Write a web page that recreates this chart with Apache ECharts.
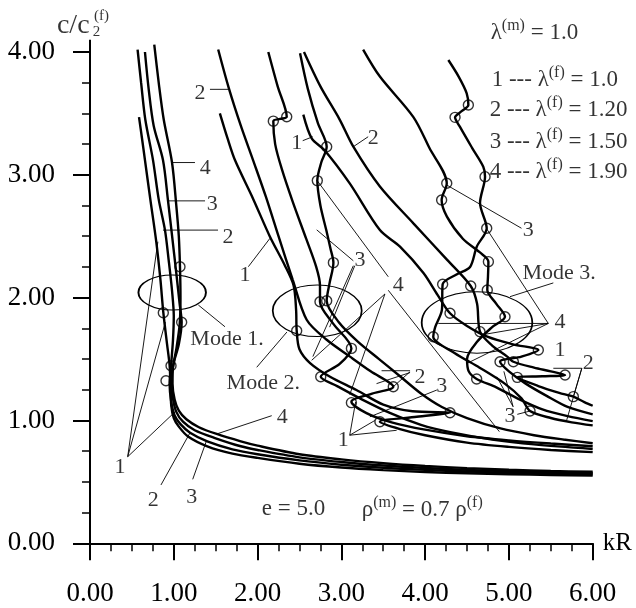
<!DOCTYPE html>
<html><head><meta charset="utf-8">
<script src="https://cdn.jsdelivr.net/npm/echarts@6/dist/echarts.min.js"></script>
<style>html,body{margin:0;padding:0;background:#fff}#c{width:636px;height:608px}</style>
</head><body><div id="c"></div>
<script>
// ---------- data (kR, c/c2) ----------
// Mode 1, lambda(f) = 1.0, 1.20, 1.50, 1.90
const mode1_l1 = [[0.585,3.47],[0.62,3.30],[0.656,3.12],[0.72,2.80],[0.79,2.46],[0.84,2.15],[0.875,1.88],[0.92,1.62],[0.95,1.45],[0.96,1.30],[0.97,1.12],[1.0,1.02],[1.06,0.95],[1.17,0.87],[1.4,0.79],[1.7,0.73],[2.0,0.695],[2.5,0.648],[3.0,0.617],[3.5,0.596],[4.0,0.58],[4.5,0.57],[5.0,0.562],[5.5,0.556],[6.0,0.552]];
const mode1_l2 = [[0.568,4.02],[0.61,3.75],[0.66,3.45],[0.752,3.12],[0.82,2.80],[0.895,2.55],[0.94,2.30],[0.98,2.05],[1.00,1.85],[0.99,1.65],[0.967,1.445],[0.95,1.30],[0.97,1.15],[1.01,1.04],[1.08,0.97],[1.194,0.90],[1.4,0.83],[1.7,0.765],[2.0,0.725],[2.5,0.675],[3.0,0.64],[3.5,0.615],[4.0,0.598],[4.5,0.585],[5.0,0.575],[5.5,0.567],[6.0,0.562]];
const mode1_l3 = [[0.656,4.0],[0.70,3.70],[0.76,3.40],[0.871,3.12],[0.931,2.79],[0.98,2.50],[1.03,2.20],[1.07,1.95],[1.094,1.80],[1.06,1.62],[1.00,1.47],[0.97,1.33],[0.99,1.18],[1.03,1.07],[1.11,0.99],[1.25,0.92],[1.5,0.855],[1.8,0.79],[2.0,0.76],[2.5,0.70],[3.0,0.662],[3.5,0.633],[4.0,0.613],[4.5,0.598],[5.0,0.587],[5.5,0.579],[6.0,0.572]];
const mode1_l4 = [[0.767,4.06],[0.82,3.75],[0.88,3.45],[0.979,3.10],[1.03,2.75],[1.06,2.50],[1.074,2.252],[1.08,2.00],[1.07,1.78],[1.03,1.58],[0.99,1.43],[0.985,1.30],[1.01,1.17],[1.06,1.08],[1.15,1.01],[1.3,0.945],[1.512,0.89],[1.8,0.83],[2.0,0.795],[2.5,0.725],[3.0,0.683],[3.5,0.652],[4.0,0.629],[4.5,0.612],[5.0,0.599],[5.5,0.589],[6.0,0.582]];
// Mode 2
const mode2_a = [[1.55,3.50],[1.64,3.30],[1.73,3.12],[1.95,2.80],[2.148,2.496],[2.32,2.27],[2.43,2.10],[2.46,1.90],[2.467,1.731],[2.50,1.58],[2.63,1.465],[2.865,1.356],[3.18,1.248],[3.50,1.13],[3.85,1.075],[4.297,1.063],[3.90,1.03],[3.46,0.99],[3.70,0.93],[4.0,0.88],[4.5,0.82],[5.0,0.785],[5.5,0.76],[6.0,0.742]];
const mode2_b = [[1.53,4.02],[1.655,3.71],[1.80,3.40],[1.946,3.12],[2.10,2.82],[2.25,2.50],[2.42,2.145],[2.586,1.82],[2.825,1.657],[3.103,1.52],[3.35,1.40],[3.62,1.275],[3.35,1.215],[3.12,1.153],[3.30,1.06],[3.60,0.985],[4.0,0.925],[4.5,0.872],[5.0,0.838],[5.5,0.812],[6.0,0.79]];
const mode2_c = [[2.128,4.0],[2.24,3.72],[2.348,3.473],[2.27,3.455],[2.188,3.437],[2.21,3.25],[2.288,3.05],[2.42,2.78],[2.58,2.48],[2.70,2.25],[2.745,2.10],[2.745,1.967],[2.90,1.79],[3.12,1.587],[2.98,1.46],[2.754,1.356],[2.95,1.28],[3.25,1.17],[3.60,1.055],[3.95,0.965],[4.3,0.905],[4.8,0.845],[5.3,0.805],[6.0,0.768]];
const mode2_d = [[2.507,3.99],[2.60,3.70],[2.72,3.42],[2.825,3.229],[2.76,3.10],[2.713,2.953],[2.75,2.75],[2.82,2.55],[2.87,2.40],[2.905,2.285],[2.86,2.12],[2.825,1.975],[2.97,1.80],[3.20,1.64],[3.45,1.50],[3.70,1.36],[3.95,1.22],[4.2,1.11],[4.5,1.02],[4.9,0.935],[5.3,0.88],[5.65,0.845],[6.0,0.815]];
// Mode 3
const mode3_a = [[2.546,3.49],[2.646,3.297],[2.80,3.20],[3.10,2.93],[3.46,2.55],[3.70,2.415],[3.98,2.20],[4.15,2.02],[4.297,1.873],[4.50,1.77],[4.75,1.68],[5.05,1.62],[5.351,1.574],[5.15,1.52],[4.894,1.478],[5.0,1.40],[5.20,1.30],[5.45,1.20],[5.70,1.11],[6.0,1.05]];
const mode3_b = [[2.554,4.0],[2.75,3.72],[2.98,3.45],[3.143,3.229],[3.46,2.905],[3.86,2.605],[4.26,2.31],[4.544,2.095],[4.62,1.95],[4.655,1.723],[4.80,1.61],[4.98,1.52],[5.053,1.478],[5.30,1.43],[5.50,1.40],[5.67,1.37],[5.40,1.36],[5.10,1.351],[5.35,1.28],[5.60,1.225],[5.769,1.194],[5.90,1.15],[6.0,1.12]];
const mode3_c = [[3.26,4.02],[3.46,3.80],[3.86,3.47],[4.05,3.22],[4.258,2.93],[4.197,2.795],[4.26,2.66],[4.45,2.48],[4.65,2.37],[4.755,2.293],[4.75,2.17],[4.742,2.062],[4.85,1.95],[4.953,1.845],[4.80,1.76],[4.62,1.64],[4.50,1.50],[4.52,1.40],[4.615,1.338],[4.85,1.27],[5.10,1.18],[5.40,1.09],[5.70,1.035],[6.0,0.995]];
const mode3_d = [[4.277,3.935],[4.40,3.80],[4.496,3.664],[4.516,3.568],[4.44,3.52],[4.357,3.468],[4.416,3.39],[4.56,3.22],[4.694,3.066],[4.715,2.985],[4.655,2.77],[4.735,2.565],[4.616,2.415],[4.536,2.25],[4.38,2.19],[4.209,2.109],[4.20,1.90],[4.12,1.76],[4.097,1.682],[4.35,1.55],[4.65,1.43],[4.95,1.30],[5.15,1.18],[5.252,1.077],[5.50,1.02],[5.75,0.985],[6.0,0.96]];

// marked points (circles)
const markedPoints = [[0.875,1.877],[1.094,1.80],[0.967,1.445],[0.907,1.324],[1.074,2.252],
 [2.188,3.437],[2.348,3.473],[2.825,3.229],[2.713,2.953],[2.905,2.285],[2.745,1.967],[2.825,1.975],[2.467,1.731],[3.12,1.587],[2.754,1.356],[3.62,1.275],[3.12,1.145],[4.297,1.063],[3.46,0.99],
 [4.516,3.568],[4.357,3.468],[4.715,2.985],[4.258,2.931],[4.197,2.795],[4.735,2.565],[4.755,2.293],[4.209,2.109],[4.544,2.095],[4.742,2.062],[4.297,1.873],[4.953,1.845],[4.097,1.682],[4.655,1.723],[5.351,1.574],[4.894,1.478],[5.053,1.478],[4.615,1.338],[5.10,1.351],[5.67,1.37],[5.769,1.194],[5.252,1.077]];

// mode ellipses: centre x, centre y, half-width, half-height (data units)
const modeEllipses = [[0.981,2.042,0.403,0.1425],[2.712,1.893,0.531,0.21],[4.619,1.798,0.66,0.25]];

// leader lines x1,y1,x2,y2
const leaders = [
 [0.979,3.10,1.253,3.10],[0.931,2.788,1.373,2.788],[0.871,2.55,1.528,2.55],
 [0.45,0.705,0.81,2.455],[0.45,0.705,0.90,1.80],[0.45,0.705,1.015,1.07],
 [0.847,0.475,1.194,0.90],[1.226,0.521,1.393,0.84],[2.169,1.039,1.512,0.89],
 [1.293,1.94,1.611,1.763],[1.99,1.433,2.35,1.72],[5.53,2.12,5.013,2.008],
 [1.432,3.696,1.65,3.696],[1.89,2.252,2.148,2.483],[2.539,3.278,2.658,3.31],[3.32,3.31,3.143,3.229],
 [3.143,2.30,2.706,2.552],[3.143,2.26,2.66,1.52],[3.16,2.26,2.86,1.76],
 [3.56,2.06,4.886,0.909],[3.52,2.03,3.10,1.21],[3.52,2.03,2.646,1.49],[3.56,2.17,2.706,2.958],
 [3.82,1.397,3.62,1.275],[3.48,1.405,3.82,1.405],[3.82,1.39,3.42,1.30],
 [4.14,1.248,3.34,1.03],
 [3.10,0.88,3.17,1.15],[3.10,0.88,3.40,1.0],[3.10,0.88,3.66,0.92],
 [5.15,2.565,4.258,2.917],
 [5.47,1.79,4.157,1.79],[5.47,1.79,4.70,1.70],[5.47,1.79,4.50,1.465],[5.47,1.79,4.735,2.56],
 [5.87,1.425,5.53,1.425],[5.87,1.425,5.769,1.194],[5.87,1.425,5.69,1.004],
 [5.05,1.112,4.855,1.356],[5.05,1.112,4.94,1.40],[5.10,1.05,5.252,1.077]
];

// curve number labels and mode names (x, y, text)
const curveLabels = [
 [1.376,3.053,'4'],[1.459,2.762,'3'],[1.647,2.490,'2'],[0.358,0.616,'1'],
 [0.756,0.353,'2'],[1.214,0.379,'3'],[2.295,1.023,'4'],
 [1.313,3.664,'2'],[1.85,2.186,'1'],[2.467,3.257,'1'],[3.381,3.297,'2'],[3.223,2.308,'3'],[3.68,2.103,'4'],
 [3.939,1.356,'2'],[4.198,1.275,'3'],[3.023,0.841,'1'],
 [5.232,2.552,'3'],[5.61,1.804,'4'],[5.61,1.574,'1'],[5.948,1.465,'2'],[5.013,1.031,'3'],
 [1.635,1.661,'Mode 1.'],[2.068,1.303,'Mode 2.'],[5.60,2.198,'Mode 3.']
];
// legend / parameter texts (left-aligned: x, y, text)
const infoTexts = [
 [4.782,4.155,'λ{sup|(m)} = 1.0'],
 [4.794,3.772,'1 --- λ{sup|(f)} = 1.0'],
 [4.770,3.527,'2 --- λ{sup|(f)} = 1.20'],
 [4.770,3.270,'3 --- λ{sup|(f)} = 1.50'],
 [4.770,3.025,'4 --- λ{sup|(f)} = 1.90'],
 [2.05,0.277,'e = 5.0'],
 [3.243,0.272,'ρ{sup|(m)} = 0.7 ρ{sup|(f)}']
];
const yName = [[-0.20,4.215,'c/c'],[0.078,4.163,'2'],[0.137,4.29,'(f)']];
const xName = 'kR';

// ---------- chart ----------
const FONT = 'Liberation Serif';
const chart = echarts.init(document.getElementById('c'), null, {renderer:'canvas'});
const curves = [mode1_l1,mode1_l2,mode1_l3,mode1_l4,mode2_a,mode2_b,mode2_c,mode2_d,mode3_a,mode3_b,mode3_c,mode3_d];
const lineSeries = curves.map(d => ({
  type:'line', data:d, showSymbol:false, smooth:0.3, clip:false, silent:true,
  lineStyle:{color:'#000', width:2.4}, z:3
}));
const rich = {sup:{fontSize:16, verticalAlign:'top', lineHeight:16, fontFamily:FONT, color:'#000'}};
function textItems(arr, size, align){
  return arr.map(a => ({value:[a[0],a[1]], label:{formatter:a[2], fontSize:size, align:align}}));
}
const option = {
  animation:false,
  backgroundColor:'#fff',
  grid:{left:90, right:43.3, top:52, bottom:64.7, outerBoundsMode:'none'},
  xAxis:{type:'value', min:0, max:6, interval:1,
    name:xName, nameLocation:'end', nameGap:10,
    nameTextStyle:{fontFamily:FONT, fontSize:25, color:'#000', verticalAlign:'middle'},
    axisLine:{lineStyle:{color:'#000', width:2}},
    axisTick:{show:true, length:17, lineStyle:{color:'#000', width:2}},
    minorTick:{show:true, splitNumber:4, length:8, lineStyle:{color:'#000', width:1.5}},
    axisLabel:{margin:37, fontFamily:FONT, fontSize:27, color:'#000', formatter:v=>v.toFixed(2)},
    splitLine:{show:false}},
  yAxis:{type:'value', min:0, max:4, interval:1,
    axisLine:{show:true, lineStyle:{color:'#000', width:2}},
    axisTick:{show:true, length:17, lineStyle:{color:'#000', width:2}},
    minorTick:{show:true, splitNumber:4, length:8, lineStyle:{color:'#000', width:1.5}},
    axisLabel:{margin:35, fontFamily:FONT, fontSize:27, color:'#000', formatter:v=>v.toFixed(2)},
    splitLine:{show:false}},
  series:[
    ...lineSeries,
    {type:'custom', clip:false, silent:true, z:2, data:modeEllipses, encode:{x:0,y:1},
     renderItem:(p,api)=>{
       const c = api.coord([api.value(0),api.value(1)]);
       const s = api.size([api.value(2),api.value(3)]);
       return {type:'circle', x:c[0], y:c[1], scaleX:s[0]/s[1], scaleY:1,
         shape:{cx:0,cy:0,r:s[1]}, style:{fill:null, stroke:'#000', lineWidth:1, strokeNoScale:true}};
     }},
    {type:'custom', clip:false, silent:true, z:2, data:leaders, encode:{x:[0,2],y:[1,3]},
     renderItem:(p,api)=>{
       const a = api.coord([api.value(0),api.value(1)]);
       const b = api.coord([api.value(2),api.value(3)]);
       return {type:'line', shape:{x1:a[0],y1:a[1],x2:b[0],y2:b[1]}, style:{stroke:'#000', lineWidth:0.9}};
     }},
    {type:'custom', clip:false, silent:true, z:2, data:[[0,4,0,4.1]], encode:{x:[0,2],y:[1,3]},
     renderItem:(p,api)=>{
       const a = api.coord([api.value(0),api.value(1)]);
       const b = api.coord([api.value(2),api.value(3)]);
       return {type:'line', shape:{x1:a[0],y1:a[1]+1,x2:b[0],y2:b[1]}, style:{stroke:'#000', lineWidth:2}};
     }},
    {type:'scatter', data:markedPoints, symbol:'circle', symbolSize:10, clip:false, silent:true, z:5,
     itemStyle:{color:'rgba(255,255,255,0)', borderColor:'#000', borderWidth:1.4}},
    {type:'scatter', clip:false, silent:true, z:6, symbolSize:1, itemStyle:{color:'rgba(0,0,0,0)'},
     label:{show:true, position:'inside', color:'#000', fontFamily:FONT, lineHeight:30, rich:rich},
     data:[...textItems(curveLabels,22,'center'), ...textItems(infoTexts,23,'left'),
           ...textItems(yName.slice(0,1),28,'center'), ...textItems(yName.slice(1),15,'center')]}
  ]
};
chart.setOption(option);
</script></body></html>
